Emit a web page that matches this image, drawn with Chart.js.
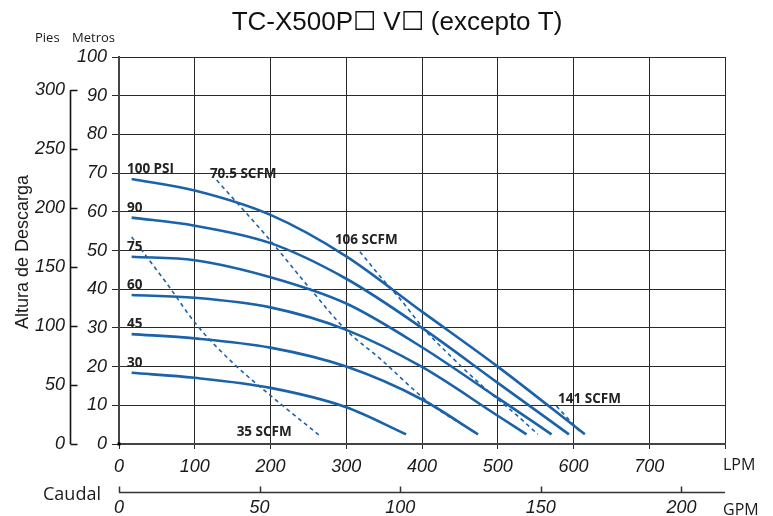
<!DOCTYPE html>
<html><head><meta charset="utf-8">
<script src="https://cdn.jsdelivr.net/npm/chart.js@4/dist/chart.umd.min.js"></script>
<style>html,body{margin:0;padding:0;background:#fff}#wrap{width:773px;height:516px;position:relative}</style>
</head><body><div id="wrap"><canvas id="c" width="773" height="516"></canvas></div>
<script>
// ---- data (LPM vs metres) ----
const TITLE = 'TC-X500P\u2610 V\u2610 (excepto T)';
const LPM_TICKS = [0, 100, 200, 300, 400, 500, 600, 700, 800];
const M_TICKS = [0, 10, 20, 30, 40, 50, 60, 70, 80, 90, 100];
const FT_TICKS = [0, 50, 100, 150, 200, 250, 300];
const GPM_TICKS = [0, 50, 100, 150, 200];

const flow100 = [16.7, 100, 200, 300, 400, 500, 615];
const head100 = [68.5, 65.5, 59.2, 48.5, 34.2, 20.0, 2.5];
const flow90 = [16.7, 100, 200, 300, 400, 500, 594];
const head90 = [58.5, 56.4, 51.9, 42.7, 30.0, 15.8, 2.5];
const flow75 = [16.7, 100, 200, 300, 400, 500, 571];
const head75 = [48.4, 47.5, 43.1, 36.3, 25.0, 11.9, 2.5];
const flow60 = [16.7, 100, 200, 300, 400, 500, 538];
const head60 = [38.5, 37.8, 35.3, 29.5, 19.9, 7.3, 2.5];
const flow45 = [16.7, 100, 200, 300, 400, 474];
const head45 = [28.4, 27.3, 24.9, 20.0, 11.5, 2.5];
const flow30 = [16.7, 100, 200, 300, 379];
const head30 = [18.4, 17.1, 14.5, 9.5, 2.5];

const flowA35 = [16.7, 63, 102.5, 150, 199, 264];
const headA35 = [53.5, 41.5, 30.8, 21.0, 12.7, 2.3];
const flowA70 = [128.9, 199.2, 252, 299.5, 344.3, 410.3, 474];
const headA70 = [68.2, 52.7, 40.2, 29.5, 22.1, 10.5, 2.5];
const flowA106 = [318, 348.7, 371, 403.7, 441, 480.7, 524.7, 553];
const headA106 = [49.7, 42.4, 37.5, 29.5, 22.1, 14.8, 7.5, 2.5];
const flowA141 = [577.4, 610.4];
const headA141 = [9.8, 2.8];

const PSI_TEXT = ['100 PSI', '90', '75', '60', '45', '30'];
const PSI_LX = [10.5, 10.5, 10.5, 10.5, 10.5, 10.5];
const PSI_LY = [70, 60, 50, 40, 30, 20];
const AIR_TEXT = ['70.5 SCFM', '106 SCFM', '141 SCFM', '35 SCFM'];
const AIR_LX = [120, 285, 579.6, 155.3];
const AIR_LY = [68.7, 51.7, 10.7, 2.1];

const GPM_MAX = 215.5;
const FT_PER_M = 1 / 0.3048;

// ---- chart ----
const BLUE = '#1a62aa';
const pts = (xs, ys) => xs.map((x, i) => ({x: x, y: ys[i]}));
function solid(xs, ys) {
  return {data: pts(xs, ys), borderColor: BLUE, borderWidth: 2.6, pointRadius: 0,
          cubicInterpolationMode: 'monotone', fill: false};
}
function dashed(xs, ys) {
  return {data: pts(xs, ys), borderColor: BLUE, borderWidth: 1.6, borderDash: [4, 3.5],
          pointRadius: 0, cubicInterpolationMode: 'monotone', fill: false};
}
const tickFont = {family: 'Liberation Sans', size: 18, style: 'italic'};
const INK = '#1a1a1a';

const decor = {
  id: 'decor',
  afterDraw(chart) {
    const ctx = chart.ctx;
    const xs = chart.scales.x, ys = chart.scales.y, fs = chart.scales.yft, gs = chart.scales.xgpm;
    ctx.save();
    // title
    ctx.fillStyle = '#111';
    ctx.font = '26px "Liberation Sans"';
    ctx.textAlign = 'center'; ctx.textBaseline = 'alphabetic';
    ctx.fillText(TITLE, 397, 30);
    // Pies / Metros
    ctx.font = '13px "Open Sans"';
    ctx.textAlign = 'left';
    ctx.fillStyle = INK;
    ctx.fillText('Pies', 35, 42);
    ctx.fillText('Metros', 72, 42);
    // y title
    ctx.save();
    ctx.translate(23.5, 252);
    ctx.rotate(-Math.PI / 2);
    ctx.textAlign = 'center'; ctx.textBaseline = 'middle';
    ctx.font = '18px "Liberation Sans"';
    ctx.fillText('Altura de Descarga', 0, 0);
    ctx.restore();
    // feet axis line + ticks (ticks point right)
    ctx.strokeStyle = '#111'; ctx.lineWidth = 1.6;
    const fx = Math.round(fs.right) - 0.5;
    ctx.beginPath();
    ctx.moveTo(fx, fs.getPixelForValue(0));
    ctx.lineTo(fx, fs.getPixelForValue(FT_TICKS[FT_TICKS.length - 1]));
    FT_TICKS.forEach(v => {
      const py = Math.round(fs.getPixelForValue(v)) + 0.5;
      ctx.moveTo(fx, py); ctx.lineTo(fx + 7, py);
    });
    ctx.stroke();
    // GPM axis line + ticks (ticks point up)
    const gy = 492.5;
    ctx.lineWidth = 1.5; ctx.strokeStyle = '#333';
    ctx.beginPath();
    ctx.moveTo(gs.getPixelForValue(0), gy);
    ctx.lineTo(gs.getPixelForValue(GPM_MAX), gy);
    GPM_TICKS.forEach(v => {
      const px = Math.round(gs.getPixelForValue(v)) + 0.5;
      ctx.moveTo(px, gy); ctx.lineTo(px, gy - 6);
    });
    ctx.stroke();
    // unit labels
    ctx.fillStyle = INK;
    ctx.font = '18px "Open Sans"';
    ctx.fillText('Caudal', 43, 500);
    ctx.font = '16px "Open Sans"';
    ctx.fillText('LPM', 723, 469.5);
    ctx.fillText('GPM', 723, 515);
    // origin mark
    ctx.fillStyle = '#000';
    ctx.fillRect(xs.getPixelForValue(0) - 1.5, ys.getPixelForValue(0) - 1.5, 3, 3);
    // curve labels
    ctx.font = 'bold 13.5px "Open Sans"';
    ctx.fillStyle = '#222';
    ctx.textAlign = 'left'; ctx.textBaseline = 'alphabetic';
    PSI_TEXT.forEach((t, i) => ctx.fillText(t, xs.getPixelForValue(PSI_LX[i]), ys.getPixelForValue(PSI_LY[i])));
    AIR_TEXT.forEach((t, i) => ctx.fillText(t, xs.getPixelForValue(AIR_LX[i]), ys.getPixelForValue(AIR_LY[i])));
    ctx.restore();
  }
};

new Chart(document.getElementById('c'), {
  type: 'line',
  data: {
    datasets: [
      solid(flow100, head100), solid(flow90, head90), solid(flow75, head75),
      solid(flow60, head60), solid(flow45, head45), solid(flow30, head30),
      dashed(flowA35, headA35), dashed(flowA70, headA70), dashed(flowA106, headA106), dashed(flowA141, headA141)
    ]
  },
  options: {
    responsive: false, animation: false, devicePixelRatio: 1,
    layout: {padding: {top: 57, right: 48, left: 0, bottom: 0}},
    plugins: {legend: {display: false}, tooltip: {enabled: false}, title: {display: false}},
    scales: {
      x: {
        type: 'linear', position: 'bottom', min: 0, max: 800, weight: 0,
        afterBuildTicks: s => { s.ticks = LPM_TICKS.map(v => ({value: v})); },
        afterFit: s => { s.height = 30; },
        ticks: {font: tickFont, color: INK, padding: 7, maxRotation: 0,
                callback: v => (v === LPM_TICKS[LPM_TICKS.length - 1] ? '' : String(v))},
        grid: {color: '#2a2a2a', lineWidth: 1, tickLength: 5},
        border: {display: true, color: '#444', width: 2}
      },
      xgpm: {
        type: 'linear', position: 'bottom', min: 0, max: GPM_MAX, weight: 1,
        afterBuildTicks: s => { s.ticks = GPM_TICKS.map(v => ({value: v})); },
        afterFit: s => { s.height = 42; },
        ticks: {font: tickFont, color: INK, padding: 23, maxRotation: 0},
        grid: {display: false, drawOnChartArea: false, drawTicks: false},
        border: {display: false}
      },
      y: {
        type: 'linear', position: 'left', min: 0, max: 100, weight: 0,
        afterBuildTicks: s => { s.ticks = M_TICKS.map(v => ({value: v})); },
        afterFit: s => { s.width = 48; },
        ticks: {font: tickFont, color: INK, padding: 5},
        grid: {color: '#2a2a2a', lineWidth: 1, tickLength: 7},
        border: {display: true, color: '#444', width: 2}
      },
      yft: {
        type: 'linear', position: 'left', min: 0, max: 100 * FT_PER_M, weight: 1,
        afterBuildTicks: s => { s.ticks = FT_TICKS.map(v => ({value: v})); },
        afterFit: s => { s.width = 71; },
        ticks: {font: tickFont, color: INK, padding: 6},
        grid: {display: false, drawOnChartArea: false, drawTicks: false},
        border: {display: false}
      }
    }
  },
  plugins: [decor]
});
</script>
</body></html>
